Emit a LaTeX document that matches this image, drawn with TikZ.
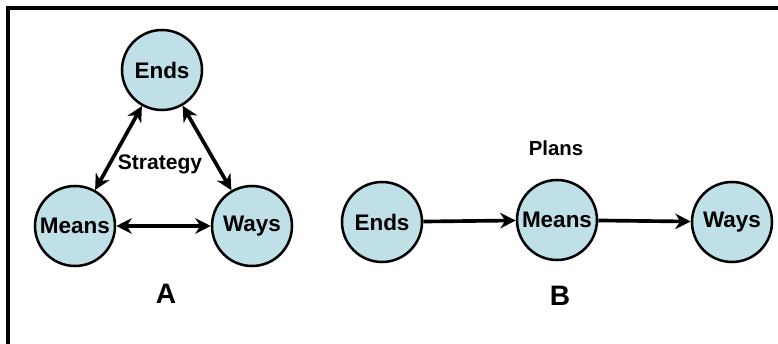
\documentclass[tikz,border=0pt]{standalone}
\usepackage{fontspec}
\setmainfont{Liberation Sans}
\usetikzlibrary{arrows.meta}
\definecolor{ballblue}{RGB}{190,224,230}
\tikzset{
  ball/.style={circle,draw,line width=1.8pt,fill=ballblue,minimum size=2cm,inner sep=0pt,font=\bfseries\fontsize{16}{18}\selectfont},
  link/.style={line width=2.6pt},
  tag/.style={font=\bfseries\fontsize{20}{22}\selectfont}
}
\begin{document}
\begin{tikzpicture}[>={Stealth[length=11pt,width=11pt,inset=3.5pt]}]
\useasboundingbox (0,0) rectangle (19.45,8.6);
\draw[line width=3pt](0.2,0)--(0.2,8.4)--(19.45,8.4);
\begin{scope}
\node[ball] (endsA) at (4.05,6.85){Ends};
\node[ball] (meansA) at (1.875,2.95){Means};
\node[ball] (waysA) at (6.3,2.95){Ways};
\node[font=\bfseries\fontsize{15}{17}\selectfont] (strat) at (4.0,4.5){Strategy};
\node[tag] (labA) at (4.15,1.25){A};
\draw[link,<->](endsA)--(meansA);
\draw[link,<->](endsA)--(waysA);
\draw[link,<->](meansA)--(waysA);
\end{scope}
\begin{scope}
\node[ball] (endsB) at (9.55,3.05){Ends};
\node[ball] (meansB) at (13.925,3.1){Means};
\node[ball] (waysB) at (18.3,3.05){Ways};
\node[font=\bfseries\fontsize{14.5}{16}\selectfont] (plans) at (13.9,4.9){Plans};
\node[tag] (labB) at (14.0,1.2){B};
\draw[link,->](endsB)--(meansB);
\draw[link,->](meansB)--(waysB);
\end{scope}
\end{tikzpicture}
\end{document}
